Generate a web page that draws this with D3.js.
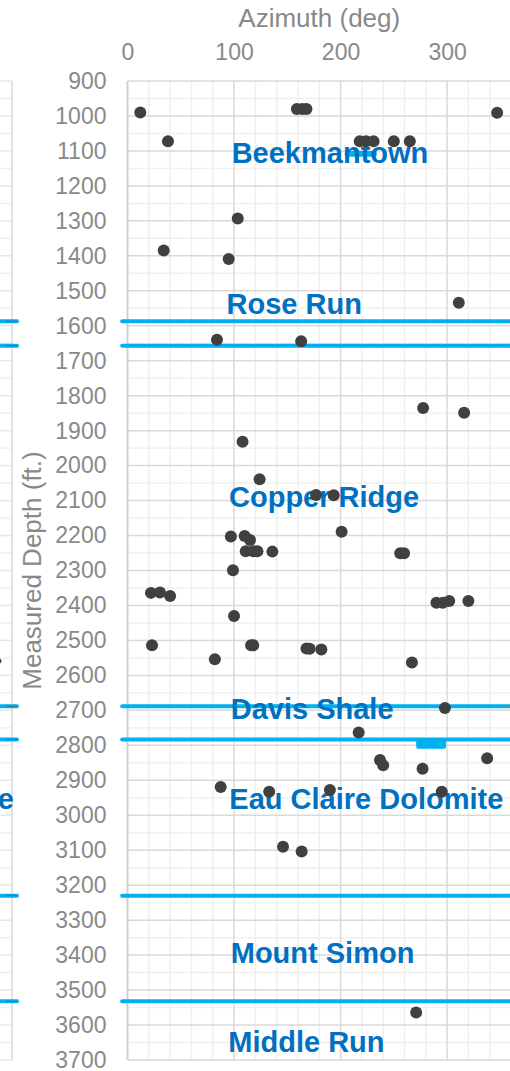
<!DOCTYPE html>
<html>
<head>
<meta charset="utf-8">
<script src="https://cdn.jsdelivr.net/npm/d3@7"></script>
<style>
  html, body { margin: 0; padding: 0; background: #ffffff; }
  svg { display: block; }
</style>
</head>
<body>
<div id="chart"></div>
<script>
// ---------- data ----------
const azimuth = [12, 38, 159, 164, 168, 218, 224, 231, 250, 265, 347,
  103.5, 34, 95, 311, 84, 163,
  108, 124, 97, 110, 115, 111, 118, 122, 136, 99, 22, 30.5, 40, 100, 23, 116, 118, 82, 168, 171, 182,
  277.5, 316, 177, 193.6, 201, 256, 259.6, 290, 296, 302, 320, 267,
  87.5, 133, 146, 163.5, 298, 217, 237, 240, 277, 337.6, 190, 295, 271];
const depth = [990, 1072, 980, 980, 980, 1072, 1072, 1072, 1072, 1072, 991,
  1293, 1385, 1409, 1534, 1640, 1644,
  1932, 2039, 2203, 2201, 2213, 2245, 2245, 2245, 2246, 2299, 2364, 2363, 2373, 2430, 2514, 2514, 2514, 2554, 2523, 2524, 2526,
  1835, 1849, 2084, 2085, 2189, 2251, 2251, 2392, 2392, 2387, 2387, 2563,
  2919, 2933, 3090, 3104, 2693, 2763, 2842, 2857, 2867, 2837, 2928, 2933, 3564];

const boundaryDepths = [1587, 1657, 2688, 2783, 3230, 3532];
const formationNames = ["Beekmantown", "Rose Run", "Copper Ridge", "Davis Shale", "Eau Claire Dolomite", "Mount Simon", "Middle Run"];
const formationLabelDepth = [1134, 1566, 2119, 2725, 2982, 3423, 3677];
const formationLabelAz = [97.8, 93, 95.3, 96.9, 95.6, 96.9, 94.6];

const depthTicks = d3.range(900, 3701, 100);
const azimuthTicks = [0, 100, 200, 300];
const xTitle = "Azimuth (deg)";
const yTitle = "Measured Depth (ft.)";

// neighbouring (cropped) panel
const leftPanelDotDepth = [2559];
const leftPanelLabel = "Eau Claire Dolomite";
const leftPanelLabelDepth = 2982;

// small marker boxes (data coords)
const boxAz = [[271, 299], [204, 234]];
const boxDepth = [[2783, 2810], [1100, 1117]];

// ---------- layout ----------
const W = 510, H = 1071;
const svg = d3.select("#chart").append("svg").attr("width", W).attr("height", H);

const x = d3.scaleLinear().domain([0, 360]).range([127.5, 511]);
const y = d3.scaleLinear().domain([900, 3700]).range([81, 1060]);
const xl = d3.scaleLinear().domain([0, 1]).range([-400, 12]); // left panel

const FONT = "'Liberation Sans', Arial, sans-serif";
const majorCol = "#d9d9d9", minorCol = "#f0f0f0";
const blue = "#00b0f0", labelBlue = "#0070c0";

// ---- left panel (cropped) ----
const lp = svg.append("g");
const minorDepths = d3.range(950, 3700, 100);
lp.selectAll("line.lmin").data(minorDepths).join("line")
  .attr("x1", 0).attr("x2", xl(1)).attr("y1", d => y(d)).attr("y2", d => y(d))
  .attr("stroke", minorCol).attr("stroke-width", 1.5);
lp.selectAll("line.lmaj").data(depthTicks).join("line")
  .attr("x1", 0).attr("x2", xl(1)).attr("y1", d => y(d)).attr("y2", d => y(d))
  .attr("stroke", "#e6e6e6").attr("stroke-width", 1.5);
lp.append("line").attr("x1", xl(1)).attr("x2", xl(1)).attr("y1", y(900)).attr("y2", y(3700))
  .attr("stroke", majorCol).attr("stroke-width", 1.5);
lp.selectAll("line.lb").data(boundaryDepths).join("line")
  .attr("x1", -5).attr("x2", xl(1) + 5).attr("y1", d => y(d)).attr("y2", d => y(d))
  .attr("stroke", blue).attr("stroke-width", 4).attr("stroke-linecap", "round");
lp.selectAll("line.ld").data(boundaryDepths).join("line")
  .attr("x1", 6).attr("x2", 17).attr("y1", d => y(d)).attr("y2", d => y(d))
  .attr("stroke", "#5a6a70").attr("stroke-width", 1);
lp.append("text").attr("x", 14).attr("y", y(leftPanelLabelDepth))
  .attr("text-anchor", "end").attr("font-family", FONT).attr("font-weight", "bold")
  .attr("font-size", 29).attr("fill", labelBlue).text(leftPanelLabel);
lp.selectAll("circle").data(leftPanelDotDepth).join("circle")
  .attr("cx", -1).attr("cy", d => y(d)).attr("r", 2.5).attr("fill", "#404040");

// ---- main panel grid ----
const g = svg.append("g");
const minorAz = d3.range(20, 361, 20).filter(d => d % 100 !== 0);
g.selectAll("line.hmin").data(minorDepths).join("line")
  .attr("x1", x(0)).attr("x2", x(360)).attr("y1", d => y(d)).attr("y2", d => y(d))
  .attr("stroke", minorCol).attr("stroke-width", 1.5);
g.selectAll("line.vmin").data(minorAz).join("line")
  .attr("x1", d => x(d)).attr("x2", d => x(d)).attr("y1", y(900)).attr("y2", y(3700))
  .attr("stroke", minorCol).attr("stroke-width", 1.5);
g.selectAll("line.hmaj").data(depthTicks).join("line")
  .attr("x1", x(0)).attr("x2", x(360)).attr("y1", d => y(d)).attr("y2", d => y(d))
  .attr("stroke", majorCol).attr("stroke-width", 1.5);
g.selectAll("line.vmaj").data([100, 200, 300]).join("line")
  .attr("x1", d => x(d)).attr("x2", d => x(d)).attr("y1", y(900)).attr("y2", y(3700))
  .attr("stroke", majorCol).attr("stroke-width", 1.5);
g.append("line").attr("x1", x(0)).attr("x2", x(0)).attr("y1", y(900)).attr("y2", y(3700))
  .attr("stroke", "#d0d0d0").attr("stroke-width", 2);

// ---- axes ----
const yAxis = d3.axisLeft(y).tickValues(depthTicks).tickSize(0).tickPadding(21).tickFormat(d3.format("d"));
const ya = svg.append("g").attr("transform", `translate(${x(0)},0)`).call(yAxis);
ya.select(".domain").remove();
ya.selectAll("text").attr("font-family", FONT).attr("font-size", 23).attr("fill", "#898989");

const xAxis = d3.axisTop(x).tickValues(azimuthTicks).tickSize(0).tickPadding(21).tickFormat(d3.format("d"));
const xa = svg.append("g").attr("transform", `translate(0,${y(900)})`).call(xAxis);
xa.select(".domain").remove();
xa.selectAll("text").attr("font-family", FONT).attr("font-size", 23).attr("fill", "#898989");

svg.append("text").attr("x", (x(0) + x(360)) / 2).attr("y", 27)
  .attr("text-anchor", "middle").attr("font-family", FONT).attr("font-size", 26)
  .attr("fill", "#898989").text(xTitle);
svg.append("text").attr("transform", `translate(41,${(y(900) + y(3700)) / 2}) rotate(-90)`)
  .attr("text-anchor", "middle").attr("font-family", FONT).attr("font-size", 26)
  .attr("fill", "#898989").text(yTitle);

// ---- formation boundaries ----
g.selectAll("rect.box").data(boxAz).join("rect")
  .attr("x", d => x(d[0])).attr("width", d => x(d[1]) - x(d[0]))
  .attr("y", (d, i) => y(boxDepth[i][0])).attr("height", (d, i) => y(boxDepth[i][1]) - y(boxDepth[i][0]))
  .attr("rx", 2).attr("fill", blue);
g.selectAll("line.bnd").data(boundaryDepths).join("line")
  .attr("x1", x(-5)).attr("x2", x(370)).attr("y1", d => y(d)).attr("y2", d => y(d))
  .attr("stroke", blue).attr("stroke-width", 4).attr("stroke-linecap", "round");
g.selectAll("line.bd").data(boundaryDepths).join("line")
  .attr("x1", 505).attr("x2", 511).attr("y1", d => y(d)).attr("y2", d => y(d))
  .attr("stroke", "#7a8a80").attr("stroke-width", 1);

// ---- labels ----
g.selectAll("text.fm").data(formationNames).join("text")
  .attr("x", (d, i) => x(formationLabelAz[i])).attr("y", (d, i) => y(formationLabelDepth[i]))
  .attr("font-family", FONT).attr("font-weight", "bold").attr("font-size", 29)
  .attr("fill", labelBlue).text(d => d);

// ---- points ----
g.selectAll("circle.pt").data(azimuth).join("circle")
  .attr("cx", d => x(d)).attr("cy", (d, i) => y(depth[i])).attr("r", 6)
  .attr("fill", "#404040");
</script>
</body>
</html>
